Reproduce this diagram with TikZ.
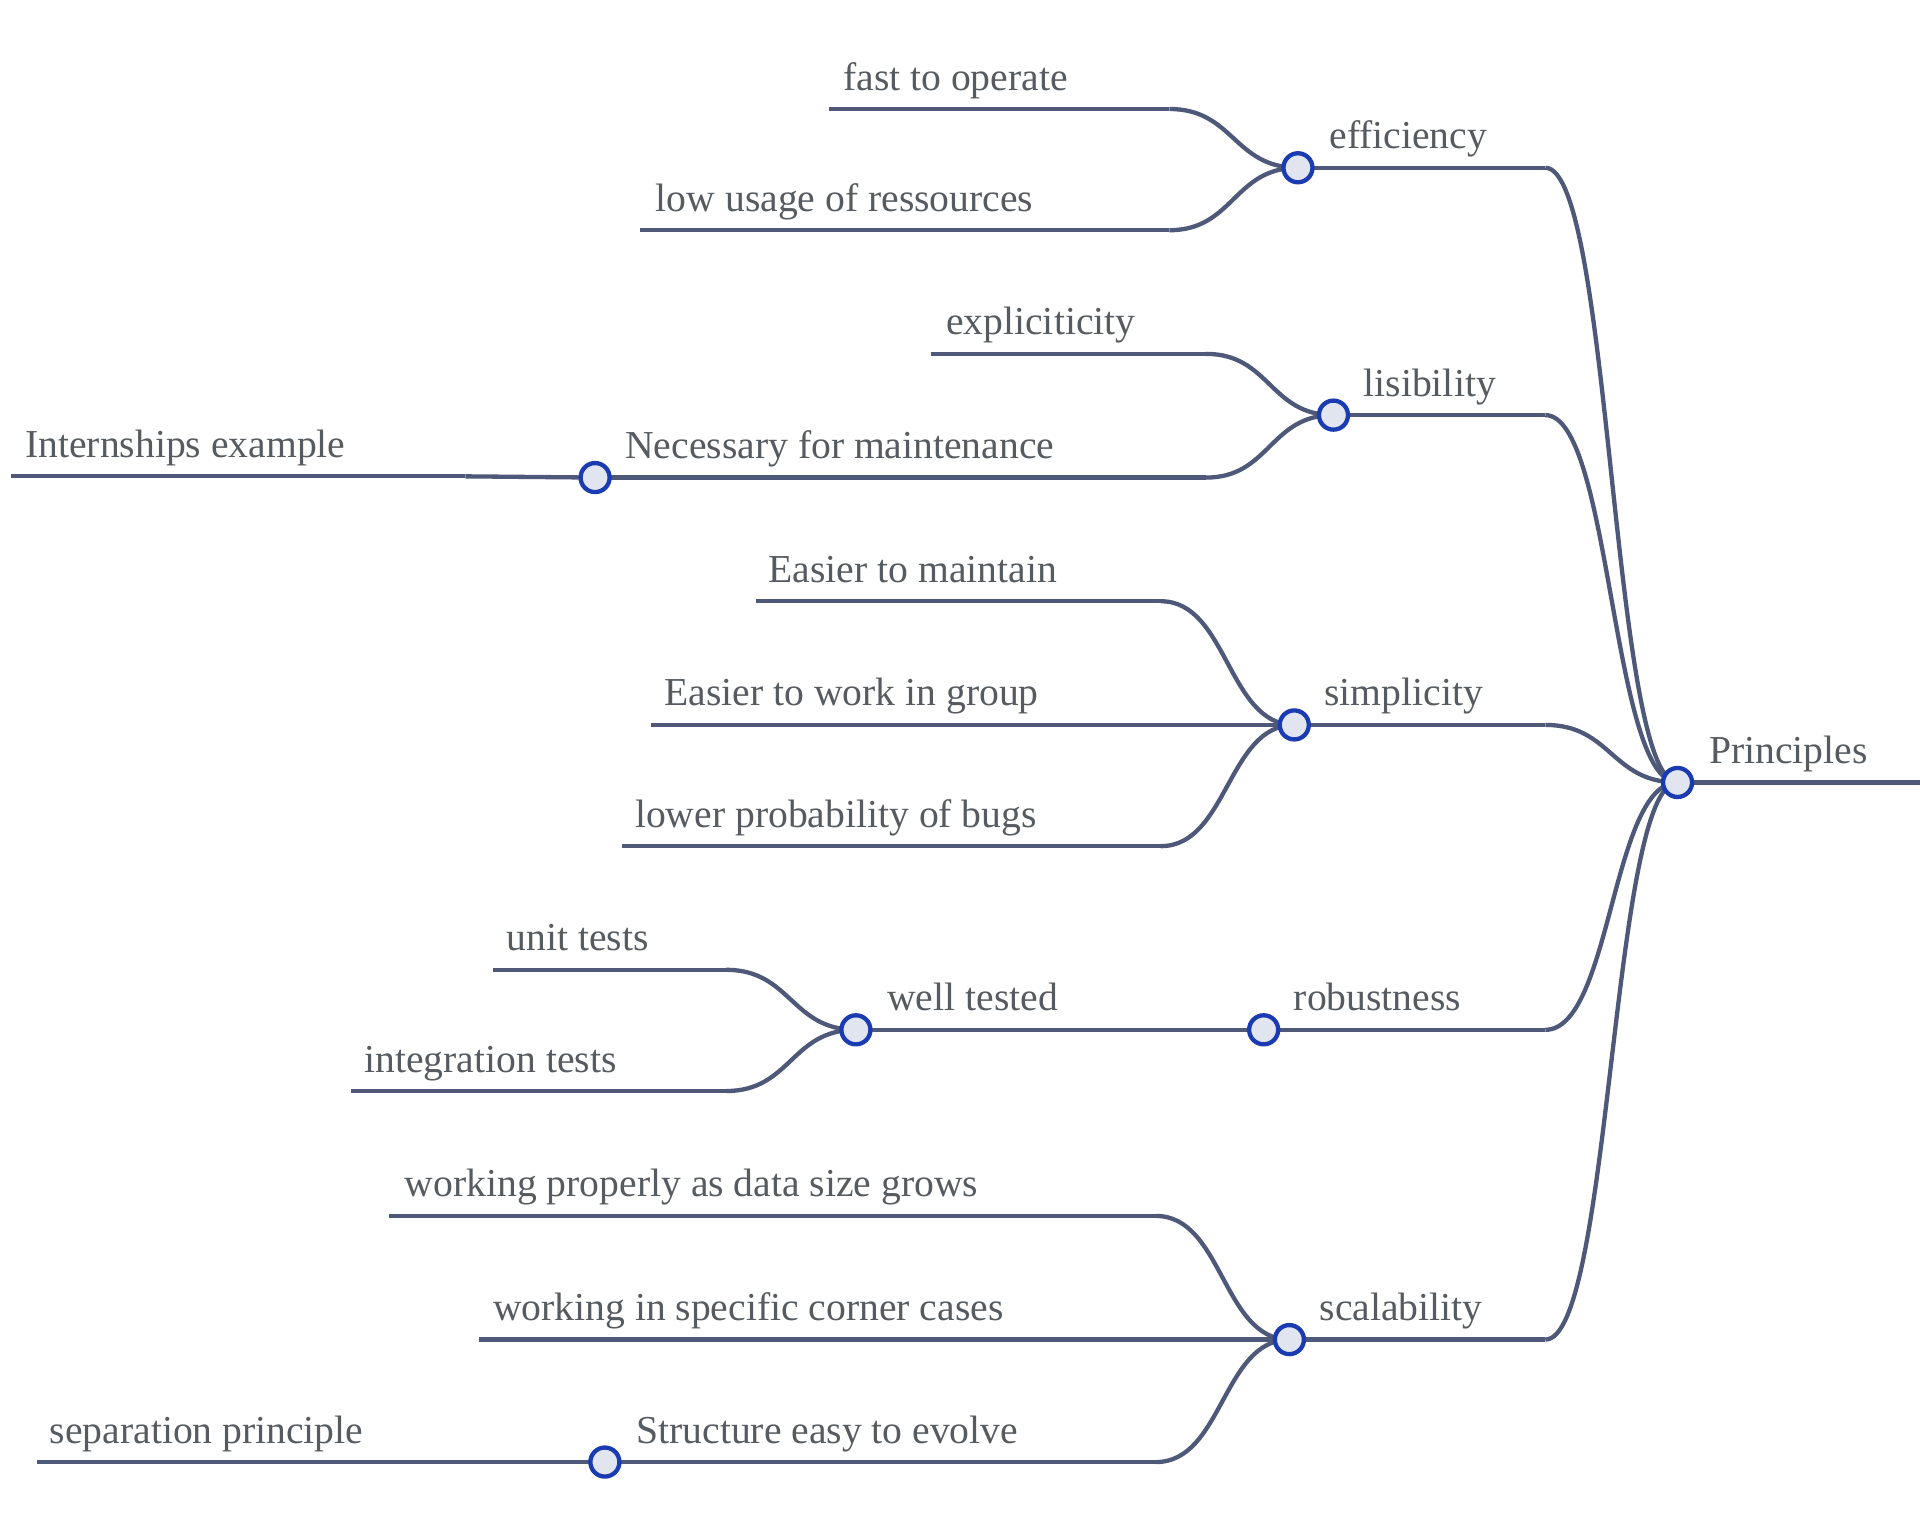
\documentclass[tikz,border=0pt]{standalone}
\usepackage{fontspec}
\setmainfont{Liberation Serif}
\usetikzlibrary{calc}
\definecolor{linkcol}{HTML}{4E5878}
\definecolor{dotcol}{HTML}{1B3BB2}
\definecolor{dotfill}{HTML}{E1E5EF}
\definecolor{txtcol}{HTML}{555B60}
\begin{document}
\begin{tikzpicture}[x=0.01cm, y=-0.01cm,
  % common options for the labels:
  lbl/.style = {anchor=base west, inner sep=0, text=txtcol,
              font=\fontsize{9.2}{11}\selectfont},
  % common options for underlines and links:
  stem/.style = {draw=linkcol, line width=1pt},
  link/.style = {draw=linkcol, line width=1pt,
              to path={let \p1=(\tikztostart), \p2=(\tikztotarget) in
              .. controls ({0.5*\x1+0.5*\x2},\y1) and ({0.5*\x1+0.5*\x2},\y2) .. (\tikztotarget)}},
  % common options for the circles:
  dot/.style = {circle, draw=dotcol, fill=dotfill, line width=1pt,
              minimum size=0.237cm, inner sep=0}]
\useasboundingbox (0,0) rectangle (1568,1250);
% circle positions
\coordinate (P) at (1370,639);
\coordinate (eff) at (1060,137);
\coordinate (lis) at (1089,339);
\coordinate (sim) at (1057,592);
\coordinate (rob) at (1032,841);
\coordinate (sca) at (1053,1094);
\coordinate (nec) at (486,390);
\coordinate (tested) at (699,841);
\coordinate (struct) at (494,1194);
% right ends of the underlines
\coordinate (P-r) at (1568,639);
\coordinate (eff-r) at (1262,137);
\coordinate (lis-r) at (1262,339);
\coordinate (sim-r) at (1262,592);
\coordinate (rob-r) at (1262,841);
\coordinate (sca-r) at (1262,1094);
\coordinate (fast-r) at (955,89);
\coordinate (low-r) at (955,188);
\coordinate (expl-r) at (985,289);
\coordinate (nec-r) at (985,390);
\coordinate (intern-r) at (380,389);
\coordinate (maint-r) at (948,491);
\coordinate (group-r) at (948,592);
\coordinate (bugs-r) at (948,691);
\coordinate (tested-r) at (924,841);
\coordinate (unit-r) at (593,792);
\coordinate (integ-r) at (593,891);
\coordinate (grows-r) at (944,993);
\coordinate (corner-r) at (944,1094);
\coordinate (struct-r) at (944,1194);
\coordinate (sep-r) at (390,1194);
% left ends of the leaves
\coordinate (fast) at (677,89);
\coordinate (low) at (523,188);
\coordinate (expl) at (760,289);
\coordinate (intern) at (9,389);
\coordinate (maint) at (617,491);
\coordinate (group) at (532,592);
\coordinate (bugs) at (508,691);
\coordinate (unit) at (403,792);
\coordinate (integ) at (287,891);
\coordinate (grows) at (318,993);
\coordinate (corner) at (391,1094);
\coordinate (sep) at (30,1194);
% underlines
\draw[stem] (P) -- (P-r);
\draw[stem] (eff) -- (eff-r);
\draw[stem] (lis) -- (lis-r);
\draw[stem] (sim) -- (sim-r);
\draw[stem] (rob) -- (rob-r);
\draw[stem] (sca) -- (sca-r);
\draw[stem] (fast) -- (fast-r);
\draw[stem] (low) -- (low-r);
\draw[stem] (expl) -- (expl-r);
\draw[stem] (nec) -- (nec-r);
\draw[stem] (intern) -- (intern-r);
\draw[stem] (maint) -- (maint-r);
\draw[stem] (group) -- (group-r);
\draw[stem] (bugs) -- (bugs-r);
\draw[stem] (tested) -- (tested-r);
\draw[stem] (unit) -- (unit-r);
\draw[stem] (integ) -- (integ-r);
\draw[stem] (grows) -- (grows-r);
\draw[stem] (corner) -- (corner-r);
\draw[stem] (struct) -- (struct-r);
\draw[stem] (sep) -- (sep-r);
% links
\draw[link] (P) to (eff-r);
\draw[link] (P) to (lis-r);
\draw[link] (P) to (sim-r);
\draw[link] (P) to (rob-r);
\draw[link] (P) to (sca-r);
\draw[link] (eff) to (fast-r);
\draw[link] (eff) to (low-r);
\draw[link] (lis) to (expl-r);
\draw[link] (lis) to (nec-r);
\draw[link] (nec) to (intern-r);
\draw[link] (sim) to (maint-r);
\draw[link] (sim) to (group-r);
\draw[link] (sim) to (bugs-r);
\draw[link] (rob) to (tested-r);
\draw[link] (tested) to (unit-r);
\draw[link] (tested) to (integ-r);
\draw[link] (sca) to (grows-r);
\draw[link] (sca) to (corner-r);
\draw[link] (sca) to (struct-r);
\draw[link] (struct) to (sep-r);
% circles
\node[dot] (P-dot) at (P) {};
\node[dot] (eff-dot) at (eff) {};
\node[dot] (lis-dot) at (lis) {};
\node[dot] (sim-dot) at (sim) {};
\node[dot] (rob-dot) at (rob) {};
\node[dot] (sca-dot) at (sca) {};
\node[dot] (nec-dot) at (nec) {};
\node[dot] (tested-dot) at (tested) {};
\node[dot] (struct-dot) at (struct) {};
% labels
\node[lbl] (P-t) at (1395,623.5) {Principles};
\node[lbl] (eff-t) at (1085,121.5) {efficiency};
\node[lbl] (lis-t) at (1113,323.5) {lisibility};
\node[lbl] (sim-t) at (1081,576.5) {simplicity};
\node[lbl] (rob-t) at (1056,825.5) {robustness};
\node[lbl] (sca-t) at (1077,1078.5) {scalability};
\node[lbl] (fast-t) at (688,73.5) {fast to operate};
\node[lbl] (low-t) at (535,172.5) {low usage of ressources};
\node[lbl] (expl-t) at (772,273.5) {expliciticity};
\node[lbl] (nec-t) at (510,374.5) {Necessary for maintenance};
\node[lbl] (intern-t) at (20,373.5) {Internships example};
\node[lbl] (maint-t) at (627,475.5) {Easier to maintain};
\node[lbl] (group-t) at (542,576.5) {Easier to work in group};
\node[lbl] (bugs-t) at (518,675.5) {lower probability of bugs};
\node[lbl] (tested-t) at (724,825.5) {well tested};
\node[lbl] (unit-t) at (413,776.5) {unit tests};
\node[lbl] (integ-t) at (297,875.5) {integration tests};
\node[lbl] (grows-t) at (330,977.5) {working properly as data size grows};
\node[lbl] (corner-t) at (402,1078.5) {working in specific corner cases};
\node[lbl] (struct-t) at (519,1178.5) {Structure easy to evolve};
\node[lbl] (sep-t) at (40,1178.5) {separation principle};
\end{tikzpicture}
\end{document}
